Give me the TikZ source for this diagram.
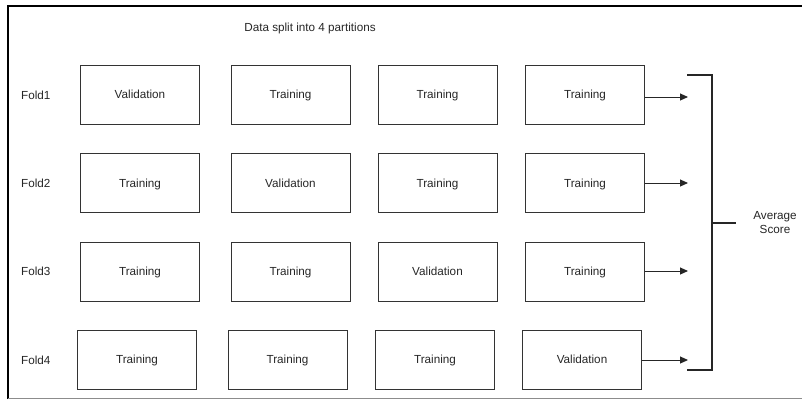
\documentclass[tikz,border=0pt]{standalone}
\usepackage{fontspec}
\setmainfont{Liberation Sans}
\usetikzlibrary{arrows.meta}
\begin{document}
\begin{tikzpicture}[x=1pt,y=-1pt,
  cell/.style={draw=black!80,line width=1pt,minimum width=119pt,minimum height=59pt,inner sep=0pt,
    text height=8.4pt,text depth=0pt,text=black!85,font=\fontsize{11.7}{13.5}\selectfont},
  lbl/.style={font=\fontsize{11.7}{13.5}\selectfont,inner sep=0pt,text=black!85},
  one/.style={text height=8.4pt,text depth=0pt},
  flow/.style={draw=black!85,line width=1pt,-{Triangle[length=8pt,width=7pt]}},
  brace/.style={draw=black!85,line width=2pt}]
\useasboundingbox (0,0) rectangle (802,399);
% frame
\draw[line width=2.5pt,black] (8,399) -- (8,6) -- (802,6);
\draw[line width=1pt,black!45] (8,398.5) -- (802,398.5);
% title
\node[lbl,one] (title) at (310,27) {Data split into 4 partitions};
% fold labels
\node[lbl,one,anchor=west] (f1) at (21,95) {Fold1};
\node[lbl,one,anchor=west] (f2) at (21,183) {Fold2};
\node[lbl,one,anchor=west] (f3) at (21,271) {Fold3};
\node[lbl,one,anchor=west] (f4) at (21,360) {Fold4};
% rows of partitions
\node[cell] (b11) at (140,94.5) {Validation};
\node[cell] (b12) at (290.5,94.5) {Training};
\node[cell] (b13) at (437.5,94.5) {Training};
\node[cell] (b14) at (585,94.5) {Training};
\node[cell] (b21) at (140,183) {Training};
\node[cell] (b22) at (290.5,183) {Validation};
\node[cell] (b23) at (437.5,183) {Training};
\node[cell] (b24) at (585,183) {Training};
\node[cell] (b31) at (140,271.5) {Training};
\node[cell] (b32) at (290.5,271.5) {Training};
\node[cell] (b33) at (437.5,271.5) {Validation};
\node[cell] (b34) at (585,271.5) {Training};
\node[cell] (b41) at (137,359.5) {Training};
\node[cell] (b42) at (287.5,359.5) {Training};
\node[cell] (b43) at (435,359.5) {Training};
\node[cell] (b44) at (582,359.5) {Validation};
% arrow ends
\coordinate (e1) at (688,97);
\coordinate (e2) at (688,183);
\coordinate (e3) at (688,271);
\coordinate (e4) at (688,360);
\draw[flow] (b14.east |- e1) -- (e1);
\draw[flow] (b24.east |- e2) -- (e2);
\draw[flow] (b34.east |- e3) -- (e3);
\draw[flow] (b44.east |- e4) -- (e4);
% bracket
\coordinate (bt) at (687,75);
\coordinate (bb) at (687,370);
\coordinate (bm) at (736,223);
\draw[brace] (bt) -- (712,75) -- (712,370) -- (bb);
\draw[brace] (712,223) -- (bm);
\node[lbl,align=center] (avg) at (775,222.5) {Average\\Score};
\end{tikzpicture}
\end{document}
